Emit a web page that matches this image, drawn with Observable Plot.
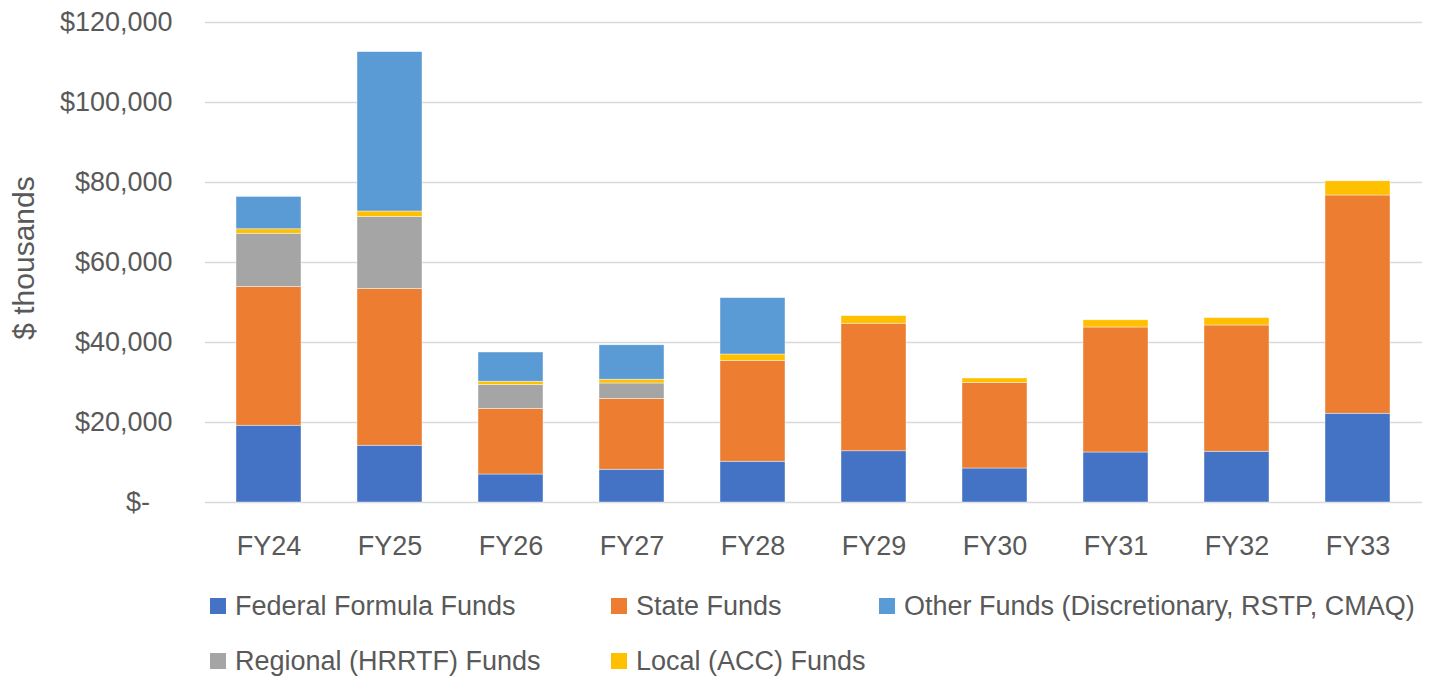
<!DOCTYPE html>
<html>
<head>
<meta charset="utf-8">
<script src="https://cdn.jsdelivr.net/npm/d3@7"></script>
<script src="https://cdn.jsdelivr.net/npm/@observablehq/plot@0.6"></script>
<style>
  html, body { margin: 0; padding: 0; background: #fff; }
  #wrap { position: relative; width: 1440px; height: 679px; font-family: "Liberation Sans", Arial, sans-serif; color: #595959; }
  .item { position: absolute; display: flex; align-items: center; height: 30px; font-size: 27px; white-space: nowrap; }
  .sw { width: 16px; height: 16px; margin-right: 9px; }
  #ytitle { position: absolute; left: 24px; top: 258px; font-size: 30px; white-space: nowrap;
            transform: translate(-50%, -50%) rotate(-90deg); line-height: 1; }
</style>
</head>
<body>
<div id="wrap"></div>
<script>
const years = ["FY24","FY25","FY26","FY27","FY28","FY29","FY30","FY31","FY32","FY33"];
const seriesNames = ["Federal Formula Funds","State Funds","Regional (HRRTF) Funds","Local (ACC) Funds","Other Funds (Discretionary, RSTP, CMAQ)"];
const seriesColors = ["#4472C4","#ED7D31","#A5A5A5","#FFC000","#5B9BD5"];
const federal  = [19200, 14200, 7000, 8200, 10200, 12800, 8500, 12500, 12700, 22200];
const state    = [34700, 39200, 16400, 17700, 25200, 31900, 21400, 31250, 31550, 54550];
const regional = [13300, 18000, 6000, 3850, 0, 0, 0, 0, 0, 0];
const local    = [1100, 1350, 800, 950, 1600, 1900, 1100, 1800, 1850, 3550];
const other    = [8100, 39850, 7300, 8600, 14100, 0, 0, 0, 0, 0];
const yTicks = [0, 20000, 40000, 60000, 80000, 100000, 120000];
const yTitle = "$ thousands";

const seriesValues = [federal, state, regional, local, other];
const rows = [];
seriesNames.forEach((s, i) => years.forEach((y, j) => rows.push({year: y, series: s, value: seriesValues[i][j]})));

const fmt = d3.format(",");
const chart = Plot.plot({
  width: 1440,
  height: 575,
  marginLeft: 205,
  marginRight: 18,
  marginTop: 22,
  marginBottom: 73,
  style: {fontFamily: '"Liberation Sans", Arial, sans-serif', fontSize: "27px", color: "#595959", background: "#fff"},
  x: {domain: years, paddingInner: 0.46, paddingOuter: 0.23, label: null},
  y: {domain: [0, 120000], label: null},
  color: {domain: seriesNames, range: seriesColors},
  marks: [
    Plot.gridY(yTicks, {stroke: "#d9d9d9", strokeOpacity: 1, strokeWidth: 1.5}),
    Plot.barY(rows, {x: "year", y: "value", fill: "series", order: seriesNames, stroke: "#fff", strokeWidth: 0.6, strokeOpacity: 0.7}),
    Plot.axisX({tickSize: 0, tickPadding: 33, fontSize: 27, fill: "#595959", label: null}),
    Plot.axisY(yTicks, {tickSize: 0, tickPadding: 33, fontSize: 27, fill: "#595959", label: null,
      tickFormat: d => d === 0 ? "$-\u00a0\u00a0\u00a0" : "$" + fmt(d)})
  ]
});
const wrap = document.getElementById("wrap");
chart.style.position = "absolute";
chart.style.left = "0px";
chart.style.top = "0px";
wrap.appendChild(chart);

const yt = document.createElement("div");
yt.id = "ytitle";
yt.textContent = yTitle;
wrap.appendChild(yt);

const legendPos = [
  {left: 210, top: 591},
  {left: 611, top: 591},
  {left: 879, top: 591},
  {left: 210, top: 646},
  {left: 611, top: 646}
];
// order in legend: Federal, State, Other (row 1), Regional, Local (row 2)
const legendOrder = [0, 1, 4, 2, 3];
legendOrder.forEach((si, k) => {
  const p = legendPos[k];
  const div = document.createElement("div");
  div.className = "item";
  div.style.left = p.left + "px";
  div.style.top = p.top + "px";
  const sw = document.createElement("span");
  sw.className = "sw";
  sw.style.background = seriesColors[si];
  const tx = document.createElement("span");
  tx.textContent = seriesNames[si];
  div.appendChild(sw);
  div.appendChild(tx);
  wrap.appendChild(div);
});
</script>
</body>
</html>
